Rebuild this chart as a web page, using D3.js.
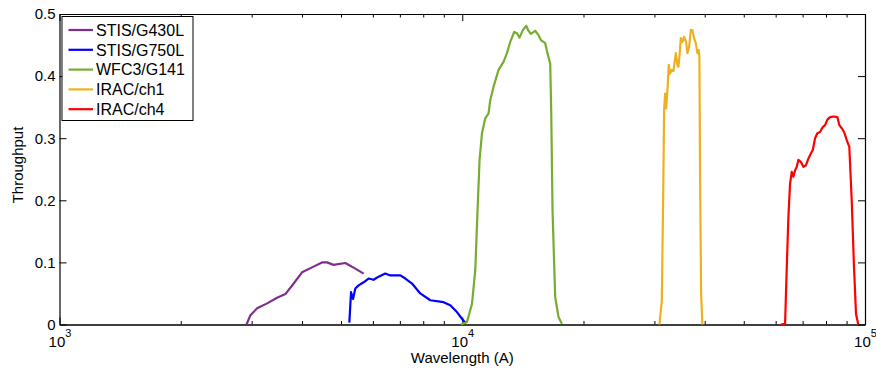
<!DOCTYPE html>
<html>
<head>
    <meta charset="utf-8">
    <title>Throughput</title>
    <script src="https://d3js.org/d3.v7.min.js"></script>
    <style>
      body { margin: 0; background: #fff; }
      text { font-family: "Liberation Sans", Arial, sans-serif; fill: #000; }
      .axis path, .axis line { stroke: #000; }
    </style>
</head>
<body>
<div id="chart"></div>
<script type="text/javascript">
    // filter names and colours
    let names = ["STIS/G430L", "STIS/G750L", "WFC3/G141", "IRAC/ch1", "IRAC/ch4"];
    let colors = ["#7E2F8E", "#0000FF", "#77AC30", "#EDB120", "#FF0000"];

    // wavelength (A) / throughput
    let g430lWave = [2913, 2979, 3095, 3277, 3469, 3638, 3814, 4002, 4236, 4486, 4617, 4792, 5124, 5426, 5691];
    let g430lThru = [0, 0.015, 0.026, 0.034, 0.043, 0.049, 0.066, 0.084, 0.092, 0.100, 0.100, 0.096, 0.099, 0.090, 0.082];

    let g750lWave = [5244, 5295, 5356, 5426, 5529, 5690, 5855, 6025, 6200, 6441, 6628, 7020, 7223, 7504, 7866, 8329, 8987, 9337, 9701, 10075, 10232];
    let g750lThru = [0.003, 0.052, 0.041, 0.058, 0.063, 0.068, 0.074, 0.072, 0.077, 0.082, 0.079, 0.079, 0.074, 0.066, 0.050, 0.039, 0.036, 0.031, 0.020, 0.006, 0.002];

    let g141Wave = [9927, 10273, 10571, 10772, 10914, 11041, 11193, 11406, 11623, 11737, 11960, 12307, 12663, 12911, 13157, 13460, 13670, 13873, 14145, 14414, 14604, 14806, 15172, 15462, 15676, 16067, 16279, 16536, 16629, 16754, 17013, 17338, 17677];
    let g141Thru = [0, 0.004, 0.033, 0.087, 0.184, 0.265, 0.308, 0.332, 0.340, 0.361, 0.383, 0.410, 0.423, 0.437, 0.455, 0.471, 0.469, 0.462, 0.474, 0.481, 0.473, 0.468, 0.473, 0.466, 0.458, 0.453, 0.437, 0.420, 0.345, 0.184, 0.044, 0.012, 0.001];

    let ch1Wave = [30878, 31300, 31584, 31709, 31892, 32076, 32314, 32575, 32816, 33135, 33442, 33634, 33906, 34212, 34410, 34609, 34888, 35211, 35553, 35957, 36231, 36583, 36938, 37280, 37642, 38008, 38359, 38661, 38795, 38955, 39180, 39470];
    let ch1Thru = [0, 0.039, 0.238, 0.345, 0.372, 0.348, 0.377, 0.418, 0.404, 0.410, 0.408, 0.420, 0.437, 0.418, 0.415, 0.431, 0.461, 0.455, 0.463, 0.455, 0.437, 0.447, 0.474, 0.474, 0.461, 0.453, 0.437, 0.442, 0.431, 0.238, 0.050, 0];

    let ch4Wave = [61779, 63322, 63938, 64530, 65157, 65790, 66399, 67045, 67698, 68325, 69262, 70306, 71282, 72341, 73346, 74185, 75164, 76157, 77341, 78545, 79582, 80646, 81903, 83451, 85394, 86365, 87566, 88724, 90103, 91418, 92683, 93908, 94995, 96249];
    let ch4Thru = [0, 0.001, 0.092, 0.173, 0.227, 0.246, 0.238, 0.248, 0.254, 0.265, 0.262, 0.254, 0.256, 0.267, 0.275, 0.281, 0.300, 0.308, 0.310, 0.318, 0.321, 0.330, 0.334, 0.335, 0.334, 0.321, 0.316, 0.310, 0.297, 0.286, 0.200, 0.092, 0.017, 0];

    let xMajor = [1e3, 1e4, 1e5];
    let xExponents = ["3", "4", "5"];
    let yTicks = [0, 0.1, 0.2, 0.3, 0.4, 0.5];

    let series = [
      [g430lWave, g430lThru],
      [g750lWave, g750lThru],
      [g141Wave, g141Thru],
      [ch1Wave, ch1Thru],
      [ch4Wave, ch4Thru]
    ];

    let margin = {top: 14, right: 11, bottom: 48.5, left: 59.5};
    let w = 876 - margin.left - margin.right;
    let h = 373 - margin.top - margin.bottom;

    let svg = d3.select("#chart")
            .append("svg")
                .attr("width", 876)
                .attr("height", 373)
            .append("g")
                .attr("transform", "translate(" + margin.left + "," + margin.top + ")");

    let xScale = d3.scaleLog().domain([1e3, 1e5]).range([0, w]);
    let yScale = d3.scaleLinear().domain([0, 0.5]).range([h, 0]);

    // minor log ticks 2..9 x 10^n
    let xMinor = [];
    [1e3, 1e4].forEach(d => { for (let k = 2; k <= 9; k++) xMinor.push(k * d); });

    // bottom axis (major, labelled)
    let gx = svg.append("g")
        .attr("class", "axis")
        .attr("transform", "translate(0," + h + ")")
        .call(d3.axisBottom(xScale).tickValues(xMajor).tickSize(-7).tickSizeOuter(0).tickPadding(6).tickFormat(""));
    gx.selectAll(".tick text").remove();
    gx.selectAll(".tick")
        .append("text")
            .attr("y", 22)
            .attr("text-anchor", "middle")
            .attr("font-size", "15px")
            .each(function(d, i) {
              let t = d3.select(this);
              t.append("tspan").text("10");
              t.append("tspan").attr("font-size", "11px").attr("dy", "-10").text(xExponents[i]);
            });

    svg.append("g")
        .attr("class", "axis")
        .attr("transform", "translate(0," + h + ")")
        .call(d3.axisBottom(xScale).tickValues(xMinor).tickSize(-3.5).tickSizeOuter(0).tickFormat(""));

    // top axis
    svg.append("g")
        .attr("class", "axis")
        .call(d3.axisTop(xScale).tickValues(xMajor).tickSize(-7).tickSizeOuter(0).tickFormat(""));
    svg.append("g")
        .attr("class", "axis")
        .call(d3.axisTop(xScale).tickValues(xMinor).tickSize(-3.5).tickSizeOuter(0).tickFormat(""));

    // left / right axes
    svg.append("g")
        .attr("class", "axis")
        .call(d3.axisLeft(yScale).tickValues(yTicks).tickSize(-7).tickSizeOuter(0).tickPadding(4).tickFormat(d3.format("")))
        .selectAll("text")
            .attr("font-size", "15px")
            .attr("font-family", "Liberation Sans, Arial, sans-serif");

    svg.append("g")
        .attr("class", "axis")
        .attr("transform", "translate(" + w + ",0)")
        .call(d3.axisRight(yScale).tickValues(yTicks).tickSize(-7).tickSizeOuter(0).tickFormat(""));

    svg.selectAll(".axis .domain").attr("stroke-width", 1.2);

    // curves
    let line = d3.line()
        .x(d => xScale(d[0]))
        .y(d => yScale(d[1]));

    svg.selectAll("path.curve")
        .data(series)
        .enter()
        .append("path")
            .attr("class", "curve")
            .attr("fill", "none")
            .attr("stroke", (d, i) => colors[i])
            .attr("stroke-width", 2.2)
            .attr("stroke-linejoin", "round")
            .attr("d", d => line(d[0].map((v, j) => [v, d[1][j]])));

    // axis titles
    svg.append("text")
        .attr("x", xScale(1e4))
        .attr("y", h + 38.5)
        .attr("text-anchor", "middle")
        .attr("font-size", "15px")
        .text("Wavelength (A)");

    svg.append("text")
        .attr("transform", "translate(" + (23 - margin.left) + "," + (165 - margin.top) + ") rotate(-90)")
        .attr("text-anchor", "middle")
        .attr("font-size", "15px")
        .text("Throughput");

    // legend
    let legend = svg.append("g").attr("transform", "translate(2.5,2.5)");
    legend.append("rect")
        .attr("width", 131)
        .attr("height", 104)
        .attr("fill", "#fff")
        .attr("stroke", "#000")
        .attr("stroke-width", 1);

    let rows = legend.selectAll("g.row")
        .data(names)
        .enter()
        .append("g")
            .attr("class", "row")
            .attr("transform", (d, i) => "translate(0," + (13.5 + i * 19.8) + ")");
    rows.append("line")
        .attr("x1", 6.5).attr("x2", 31)
        .attr("stroke", (d, i) => colors[i])
        .attr("stroke-width", 2.2);
    rows.append("text")
        .attr("x", 34)
        .attr("dy", "0.36em")
        .attr("font-size", "16px")
        .text(d => d);
</script>
</body>
</html>
